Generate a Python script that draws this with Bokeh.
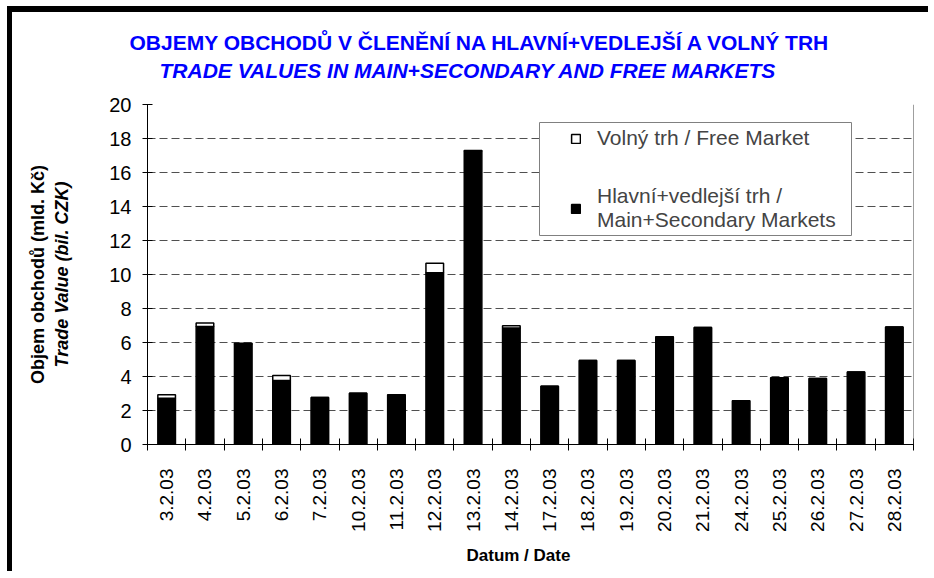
import math
from bokeh.plotting import figure
from bokeh.models import (ColumnDataSource, Legend, LegendItem, BoxAnnotation,
                          Span, FixedTicker, Range1d, Title)
from bokeh.embed import file_html
from bokeh.resources import INLINE

# ---------------- data ----------------
dates = ["3.2.03", "4.2.03", "5.2.03", "6.2.03", "7.2.03", "10.2.03", "11.2.03",
         "12.2.03", "13.2.03", "14.2.03", "17.2.03", "18.2.03", "19.2.03", "20.2.03",
         "21.2.03", "24.2.03", "25.2.03", "26.2.03", "27.2.03", "28.2.03"]
main_secondary = [2.72, 6.94, 5.91, 3.76, 2.76, 3.02, 2.92, 10.11, 17.26, 6.86,
                  3.42, 4.94, 4.94, 6.34, 6.88, 2.57, 3.92, 3.88, 4.27, 6.91]
free_market = [0.20, 0.20, 0.05, 0.30, 0.0, 0.0, 0.0, 0.55, 0.03, 0.12,
               0.0, 0.0, 0.0, 0.0, 0.0, 0.0, 0.0, 0.0, 0.0, 0.0]
y_ticks = [0, 2, 4, 6, 8, 10, 12, 14, 16, 18, 20]

title_cz = "OBJEMY OBCHODŮ V ČLENĚNÍ NA HLAVNÍ+VEDLEJŠÍ A VOLNÝ TRH"
title_en = "TRADE VALUES IN MAIN+SECONDARY AND FREE MARKETS"
ylab_cz = "Objem obchodů (mld. Kč)"
ylab_en = "Trade Value (bil. CZK)"
xlab = "Datum / Date"
leg_free = "Volný trh / Free Market"
leg_main = "Hlavní+vedlejší trh /\nMain+Secondary Markets"

FONT = "Liberation Sans"
BLUE = "#0000FF"

n = len(dates)
x_start, x_end = -0.5, n - 0.5
y_start, y_end = 0, 20

# canvas origin on the page (after css margin + border)
OX, OY = 12, 12
W, H = 921, 565
FRAME_L, FRAME_R, FRAME_T, FRAME_B = 147, 913, 104, 444   # page px
ML, MR = FRAME_L - OX, (OX + W) - FRAME_R
MT, MB = FRAME_T - OY, (OY + H) - FRAME_B

p = figure(width=W, height=H, output_backend="svg", toolbar_location=None,
           x_range=Range1d(x_start, x_end), y_range=Range1d(y_start, y_end),
           min_border_left=ML, min_border_right=MR, min_border_top=MT, min_border_bottom=MB,
           background_fill_color="white", border_fill_color="white")
p.outline_line_color = None
p.styles = {"border-left": "5px solid black", "border-top": "6px solid black",
            "margin-left": "7px", "margin-top": "6px"}

PX_PER_X = (FRAME_R - FRAME_L) / (x_end - x_start)
PX_PER_Y = (FRAME_B - FRAME_T) / (y_end - y_start)

def xd(px):
    return x_start + (px - FRAME_L) / PX_PER_X

def yd(py):
    return y_start + (FRAME_B - py) / PX_PER_Y

source = ColumnDataSource(dict(x=list(range(n)), main=main_secondary, free=free_market))
rs = p.vbar_stack(["main", "free"], x="x", width=0.46, source=source,
                  fill_color=["black", "white"], line_color="black", line_width=1.5)
r_main, r_free = rs

# ---------------- axes ----------------
p.xaxis.ticker = FixedTicker(ticks=list(range(n)), minor_ticks=[i - 0.5 for i in range(n + 1)])
p.xaxis.major_label_overrides = {i: d for i, d in enumerate(dates)}
p.xaxis.major_label_orientation = math.pi / 2
p.xaxis.major_tick_out = 0
p.xaxis.major_tick_in = 0
p.xaxis.minor_tick_in = 6
p.xaxis.minor_tick_out = 6
p.xaxis.minor_tick_line_color = "black"
p.xaxis.major_label_standoff = 18
p.xaxis.major_label_text_font = FONT
p.xaxis.major_label_text_font_size = "19px"
p.xaxis.major_label_text_color = "black"
p.xaxis.axis_line_color = "black"

p.yaxis.ticker = FixedTicker(ticks=y_ticks, minor_ticks=[])
p.yaxis.major_tick_out = 5
p.yaxis.major_tick_in = 5
p.yaxis.major_tick_line_color = "black"
p.yaxis.major_label_standoff = 11
p.yaxis.major_label_text_font = FONT
p.yaxis.major_label_text_font_size = "20px"
p.yaxis.major_label_text_color = "black"
p.yaxis.axis_line_color = "black"
p.yaxis.axis_label = ylab_en
p.yaxis.axis_label_text_font = FONT
p.yaxis.axis_label_text_font_size = "18px"
p.yaxis.axis_label_text_font_style = "bold italic"
p.yaxis.axis_label_text_color = "black"
p.yaxis.axis_label_standoff = 34

p.xgrid.visible = False
p.ygrid.grid_line_color = "#505050"
p.ygrid.grid_line_dash = "8 4"
p.ygrid.grid_line_width = 1

# right edge of plot area
p.add_layout(Span(location=x_end, dimension="height", line_color="#404040", line_width=1))

# ---------------- titles ----------------
# p.title is the outermost title panel: Czech line
p.title.text = title_cz
p.title.align = "left"
p.title.offset = 129 - FRAME_L
p.title.text_font = FONT
p.title.text_font_size = "21px"
p.title.text_font_style = "bold"
p.title.text_color = BLUE
p.title.standoff = -40

# English line, nearest to the frame
p.add_layout(Title(text=title_en, align="left", offset=159 - FRAME_L, text_font=FONT,
                   text_font_size="21px", text_font_style="bold italic", text_color=BLUE,
                   standoff=46), "above")

p.add_layout(Title(text=ylab_cz, align="center", text_font=FONT, text_font_size="18px",
                   text_font_style="bold", text_color="black", standoff=4), "left")

p.add_layout(Title(text=xlab, align="left", offset=466 - FRAME_L, text_font=FONT,
                   text_font_size="17px", text_font_style="bold", text_color="black",
                   standoff=18), "below")

# ---------------- legend ----------------
p.add_layout(BoxAnnotation(left=xd(539), right=xd(851), top=yd(122), bottom=yd(235),
                           fill_color="white", fill_alpha=1, line_color="#808080",
                           line_width=1, line_alpha=1))

legend = Legend(items=[LegendItem(label=leg_free, renderers=[r_free]),
                       LegendItem(label=leg_main, renderers=[r_main])],
                location=(570 - FRAME_L, FRAME_B - 232), padding=0, margin=0, spacing=34,
                glyph_width=11, glyph_height=11, label_standoff=16,
                label_text_font=FONT, label_text_font_size="21px",
                label_text_line_height=1.15, border_line_alpha=0,
                background_fill_alpha=0)
p.add_layout(legend)

open("out.html", "w").write(file_html(p, INLINE))
